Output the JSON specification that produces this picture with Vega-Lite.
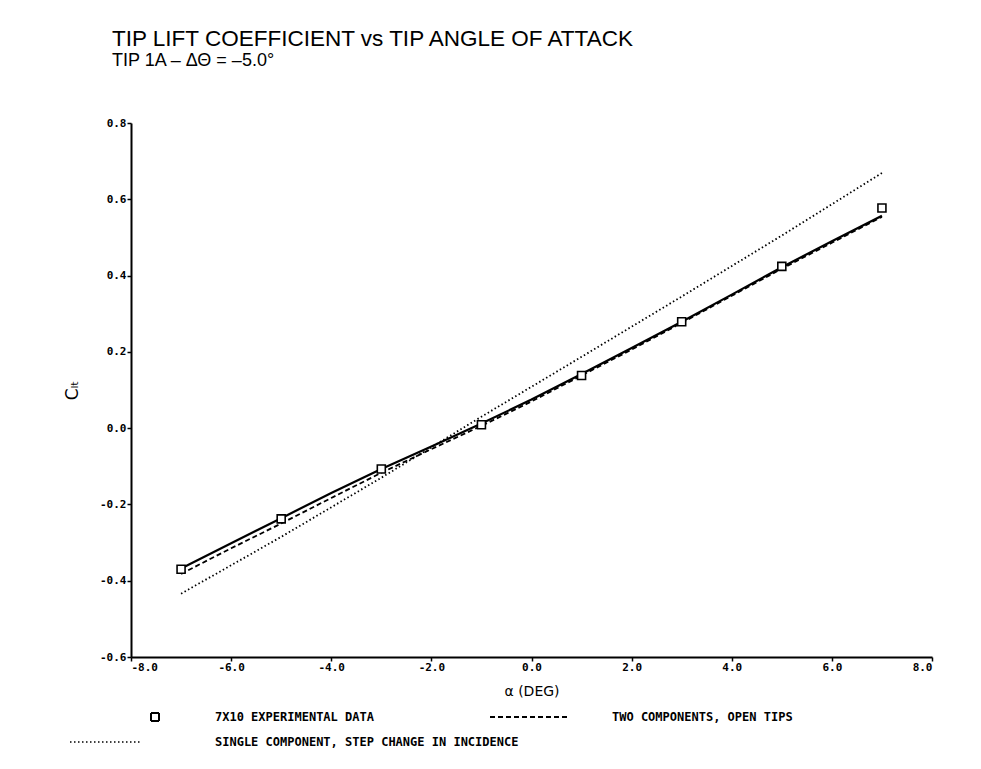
{
  "$schema": "https://vega.github.io/schema/vega-lite/v6.json",
  "width": 801,
  "height": 534,
  "autosize": {"type": "none"},
  "padding": {"left": 131, "top": 123, "right": 49, "bottom": 112},
  "background": "white",
  "title": {
    "text": "TIP LIFT COEFFICIENT vs TIP ANGLE OF ATTACK",
    "subtitle": "TIP 1A – ΔΘ = –5.0°",
    "anchor": "start",
    "frame": "group",
    "dx": -19,
    "offset": 47,
    "font": "Liberation Sans",
    "fontSize": 22.5,
    "fontWeight": "normal",
    "color": "black",
    "subtitleFont": "Liberation Sans",
    "subtitleFontSize": 18,
    "subtitleColor": "black",
    "subtitlePadding": 2
  },
  "datasets": {
    "experiment": [
      {"alpha": -7, "cl": -0.370, "series": "7X10 EXPERIMENTAL DATA"},
      {"alpha": -5, "cl": -0.238, "series": "7X10 EXPERIMENTAL DATA"},
      {"alpha": -3, "cl": -0.107, "series": "7X10 EXPERIMENTAL DATA"},
      {"alpha": -1, "cl": 0.009, "series": "7X10 EXPERIMENTAL DATA"},
      {"alpha": 1, "cl": 0.138, "series": "7X10 EXPERIMENTAL DATA"},
      {"alpha": 3, "cl": 0.279, "series": "7X10 EXPERIMENTAL DATA"},
      {"alpha": 5, "cl": 0.424, "series": "7X10 EXPERIMENTAL DATA"},
      {"alpha": 7, "cl": 0.577, "series": "7X10 EXPERIMENTAL DATA"}
    ],
    "faired": [
      {"alpha": -7, "cl": -0.368},
      {"alpha": -6, "cl": -0.302},
      {"alpha": -5, "cl": -0.236},
      {"alpha": -4, "cl": -0.170},
      {"alpha": -3, "cl": -0.107},
      {"alpha": -2, "cl": -0.048},
      {"alpha": -1, "cl": 0.012},
      {"alpha": 0, "cl": 0.075},
      {"alpha": 1, "cl": 0.142},
      {"alpha": 2, "cl": 0.210},
      {"alpha": 3, "cl": 0.279},
      {"alpha": 4, "cl": 0.350},
      {"alpha": 5, "cl": 0.422},
      {"alpha": 6, "cl": 0.490},
      {"alpha": 7, "cl": 0.557}
    ],
    "theory": [
      {"alpha": -7, "cl": -0.382, "series": "TWO COMPONENTS, OPEN TIPS"},
      {"alpha": -6, "cl": -0.315, "series": "TWO COMPONENTS, OPEN TIPS"},
      {"alpha": -5, "cl": -0.250, "series": "TWO COMPONENTS, OPEN TIPS"},
      {"alpha": -4, "cl": -0.183, "series": "TWO COMPONENTS, OPEN TIPS"},
      {"alpha": -3, "cl": -0.117, "series": "TWO COMPONENTS, OPEN TIPS"},
      {"alpha": -2, "cl": -0.055, "series": "TWO COMPONENTS, OPEN TIPS"},
      {"alpha": -1, "cl": 0.006, "series": "TWO COMPONENTS, OPEN TIPS"},
      {"alpha": 0, "cl": 0.070, "series": "TWO COMPONENTS, OPEN TIPS"},
      {"alpha": 1, "cl": 0.138, "series": "TWO COMPONENTS, OPEN TIPS"},
      {"alpha": 2, "cl": 0.206, "series": "TWO COMPONENTS, OPEN TIPS"},
      {"alpha": 3, "cl": 0.276, "series": "TWO COMPONENTS, OPEN TIPS"},
      {"alpha": 4, "cl": 0.347, "series": "TWO COMPONENTS, OPEN TIPS"},
      {"alpha": 5, "cl": 0.418, "series": "TWO COMPONENTS, OPEN TIPS"},
      {"alpha": 6, "cl": 0.486, "series": "TWO COMPONENTS, OPEN TIPS"},
      {"alpha": 7, "cl": 0.554, "series": "TWO COMPONENTS, OPEN TIPS"},
      {"alpha": -7, "cl": -0.434, "series": "SINGLE COMPONENT, STEP CHANGE IN INCIDENCE"},
      {"alpha": -5, "cl": -0.285, "series": "SINGLE COMPONENT, STEP CHANGE IN INCIDENCE"},
      {"alpha": -3, "cl": -0.130, "series": "SINGLE COMPONENT, STEP CHANGE IN INCIDENCE"},
      {"alpha": -1, "cl": 0.030, "series": "SINGLE COMPONENT, STEP CHANGE IN INCIDENCE"},
      {"alpha": 1, "cl": 0.187, "series": "SINGLE COMPONENT, STEP CHANGE IN INCIDENCE"},
      {"alpha": 3, "cl": 0.345, "series": "SINGLE COMPONENT, STEP CHANGE IN INCIDENCE"},
      {"alpha": 5, "cl": 0.505, "series": "SINGLE COMPONENT, STEP CHANGE IN INCIDENCE"},
      {"alpha": 7, "cl": 0.669, "series": "SINGLE COMPONENT, STEP CHANGE IN INCIDENCE"}
    ]
  },
  "encoding": {
    "x": {
      "field": "alpha",
      "type": "quantitative",
      "scale": {"domain": [-8, 8], "nice": false, "zero": false},
      "axis": {
        "title": "α (DEG)",
        "values": [-8, -6, -4, -2, 0, 2, 4, 6, 8],
        "labelExpr": "replace(format(datum.value, '.1f'), '−', '-')",
        "labelPadding": 0,
        "titlePadding": 12
      }
    },
    "y": {
      "field": "cl",
      "type": "quantitative",
      "scale": {"domain": [-0.6, 0.8], "nice": false, "zero": false},
      "axis": {
        "title": "Cₗₜ",
        "titleFontSize": 17,
        "values": [-0.6, -0.4, -0.2, 0, 0.2, 0.4, 0.6, 0.8],
        "labelExpr": "replace(format(datum.value, '.1f'), '−', '-')",
        "labelPadding": 1,
        "titlePadding": 18
      }
    }
  },
  "layer": [
    {
      "data": {"name": "faired"},
      "mark": {"type": "line", "color": "black", "strokeWidth": 2.2}
    },
    {
      "data": {"name": "theory"},
      "mark": {"type": "line", "color": "black", "strokeWidth": 1.8},
      "encoding": {
        "strokeDash": {
          "field": "series",
          "type": "nominal",
          "scale": {
            "domain": ["7X10 EXPERIMENTAL DATA", "TWO COMPONENTS, OPEN TIPS", "SINGLE COMPONENT, STEP CHANGE IN INCIDENCE"],
            "range": [[1, 0], [5, 3], [1.5, 2.5]]
          },
          "legend": {
            "title": null,
            "values": ["7X10 EXPERIMENTAL DATA", "TWO COMPONENTS, OPEN TIPS", "SINGLE COMPONENT, STEP CHANGE IN INCIDENCE"],
            "orient": "none",
            "direction": "horizontal",
            "legendX": -32,
            "legendY": 588,
            "columns": 2,
            "gridAlign": "none",
            "columnPadding": -33,
            "rowPadding": 11,
            "symbolType": "stroke",
            "symbolSize": 100,
            "symbolStrokeWidth": 1.5,
            "symbolStrokeColor": "black",
            "symbolFillColor": "white",
            "labelOffset": 104,
            "labelFont": "DejaVu Sans Mono",
            "labelFontWeight": "bold",
            "labelFontSize": 12,
            "labelColor": "black",
            "labelLimit": 500,
            "encode": {
              "symbols": {
                "update": {
                  "shape": {"signal": "datum.value === '7X10 EXPERIMENTAL DATA' ? 'M9.2,-0.8H10.8V0.8H9.2Z' : datum.value === 'TWO COMPONENTS, OPEN TIPS' ? 'M-2.4,0H13.6' : 'M-7,0H7'"},
                  "fill": {"value": "white"},
                  "stroke": {"value": "black"},
                  "strokeWidth": {"signal": "datum.value === 'SINGLE COMPONENT, STEP CHANGE IN INCIDENCE' ? 1.5 : 2"},
                  "opacity": {"value": 1}
                }
              }
            }
          }
        }
      }
    },
    {
      "data": {"name": "experiment"},
      "mark": {"type": "point", "shape": "square", "size": 64, "filled": true, "fill": "white", "stroke": "black", "strokeWidth": 1.6, "opacity": 1}
    }
  ],
  "config": {
    "view": {"stroke": null},
    "axis": {
      "grid": false,
      "domainColor": "black",
      "domainWidth": 2,
      "tickColor": "black",
      "tickWidth": 1.5,
      "tickSize": 4,
      "labelFont": "DejaVu Sans Mono",
      "labelFontWeight": "bold",
      "labelFontSize": 11,
      "labelColor": "black",
      "labelPadding": 2,
      "titleFont": "DejaVu Sans",
      "titleFontWeight": "normal",
      "titleFontSize": 14,
      "titleColor": "black"
    }
  }
}
